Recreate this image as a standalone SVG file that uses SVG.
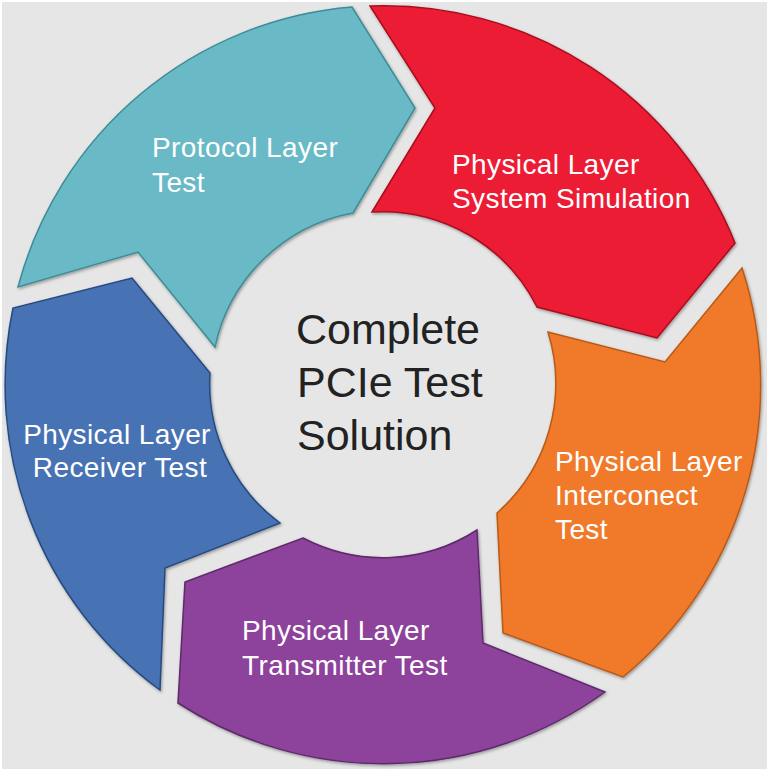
<svg xmlns="http://www.w3.org/2000/svg" width="769" height="771" viewBox="0 0 769 771">
  <defs>
    <filter id="sh" x="-10%" y="-10%" width="120%" height="120%">
      <feDropShadow dx="1" dy="1.5" stdDeviation="1.5" flood-color="#000" flood-opacity="0.35"/>
    </filter>
    <style>
      .seg { stroke-width: 1.5; stroke-linejoin: miter; filter: url(#sh); }
      .lbl { font-family: "Liberation Sans", Arial, sans-serif; font-size: 28px; fill: #ffffff; letter-spacing: 0.4px; }
      .ctr { font-family: "Liberation Sans", Arial, sans-serif; font-size: 43px; fill: #222222; }
    </style>
  </defs>
  <rect x="0" y="0" width="769" height="771" fill="#e6e6e6"/>
  <rect x="1" y="1" width="767" height="769" fill="none" stroke="#ffffff" stroke-width="2"/>

  <g id="protocol-layer-test">
    <path class="seg" fill="#69bac6" stroke="#3e8c96" d="M18,287 A378,378 0 0 1 352,7 L415,108 L353,213 A173,173 0 0 0 215,347 L138,252 Z"/>
    <text class="lbl" x="152" y="157">Protocol Layer</text>
    <text class="lbl" x="152" y="192">Test</text>
  </g>

  <g id="system-simulation">
    <path class="seg" fill="#ec1b34" stroke="#a8101f" d="M370,6 A378,378 0 0 1 735,243 L657,338 L537,307 A173,173 0 0 0 372,212 L435,108 Z"/>
    <text class="lbl" x="452" y="174">Physical Layer</text>
    <text class="lbl" x="452" y="208">System Simulation</text>
  </g>

  <g id="interconnect-test">
    <path class="seg" fill="#f07a2a" stroke="#b85a18" d="M742,268 A378,378 0 0 1 623,677 L503,633 L497,513 A173,173 0 0 0 548,332 L665,362 Z"/>
    <text class="lbl" x="555" y="471">Physical Layer</text>
    <text class="lbl" x="555" y="505">Interconect</text>
    <text class="lbl" x="555" y="539">Test</text>
  </g>

  <g id="transmitter-test">
    <path class="seg" fill="#8d439b" stroke="#5e2a6b" d="M605,692 A378,378 0 0 1 178,703 L185,582 L303,538 A173,173 0 0 0 477,530 L483,643 Z"/>
    <text class="lbl" x="242" y="640">Physical Layer</text>
    <text class="lbl" x="242" y="675">Transmitter Test</text>
  </g>

  <g id="receiver-test">
    <path class="seg" fill="#4673b5" stroke="#274a80" d="M160,690 A378,378 0 0 1 13,308 L132,278 L210,373 A173,173 0 0 0 280,523 L165,568 Z"/>
    <text class="lbl" x="117" y="444" text-anchor="middle">Physical Layer</text>
    <text class="lbl" x="120" y="477" text-anchor="middle">Receiver Test</text>
  </g>

  <g id="center">
    <text class="ctr" x="296" y="344">Complete</text>
    <text class="ctr" x="297" y="397">PCIe Test</text>
    <text class="ctr" x="297" y="450">Solution</text>
  </g>
</svg>
